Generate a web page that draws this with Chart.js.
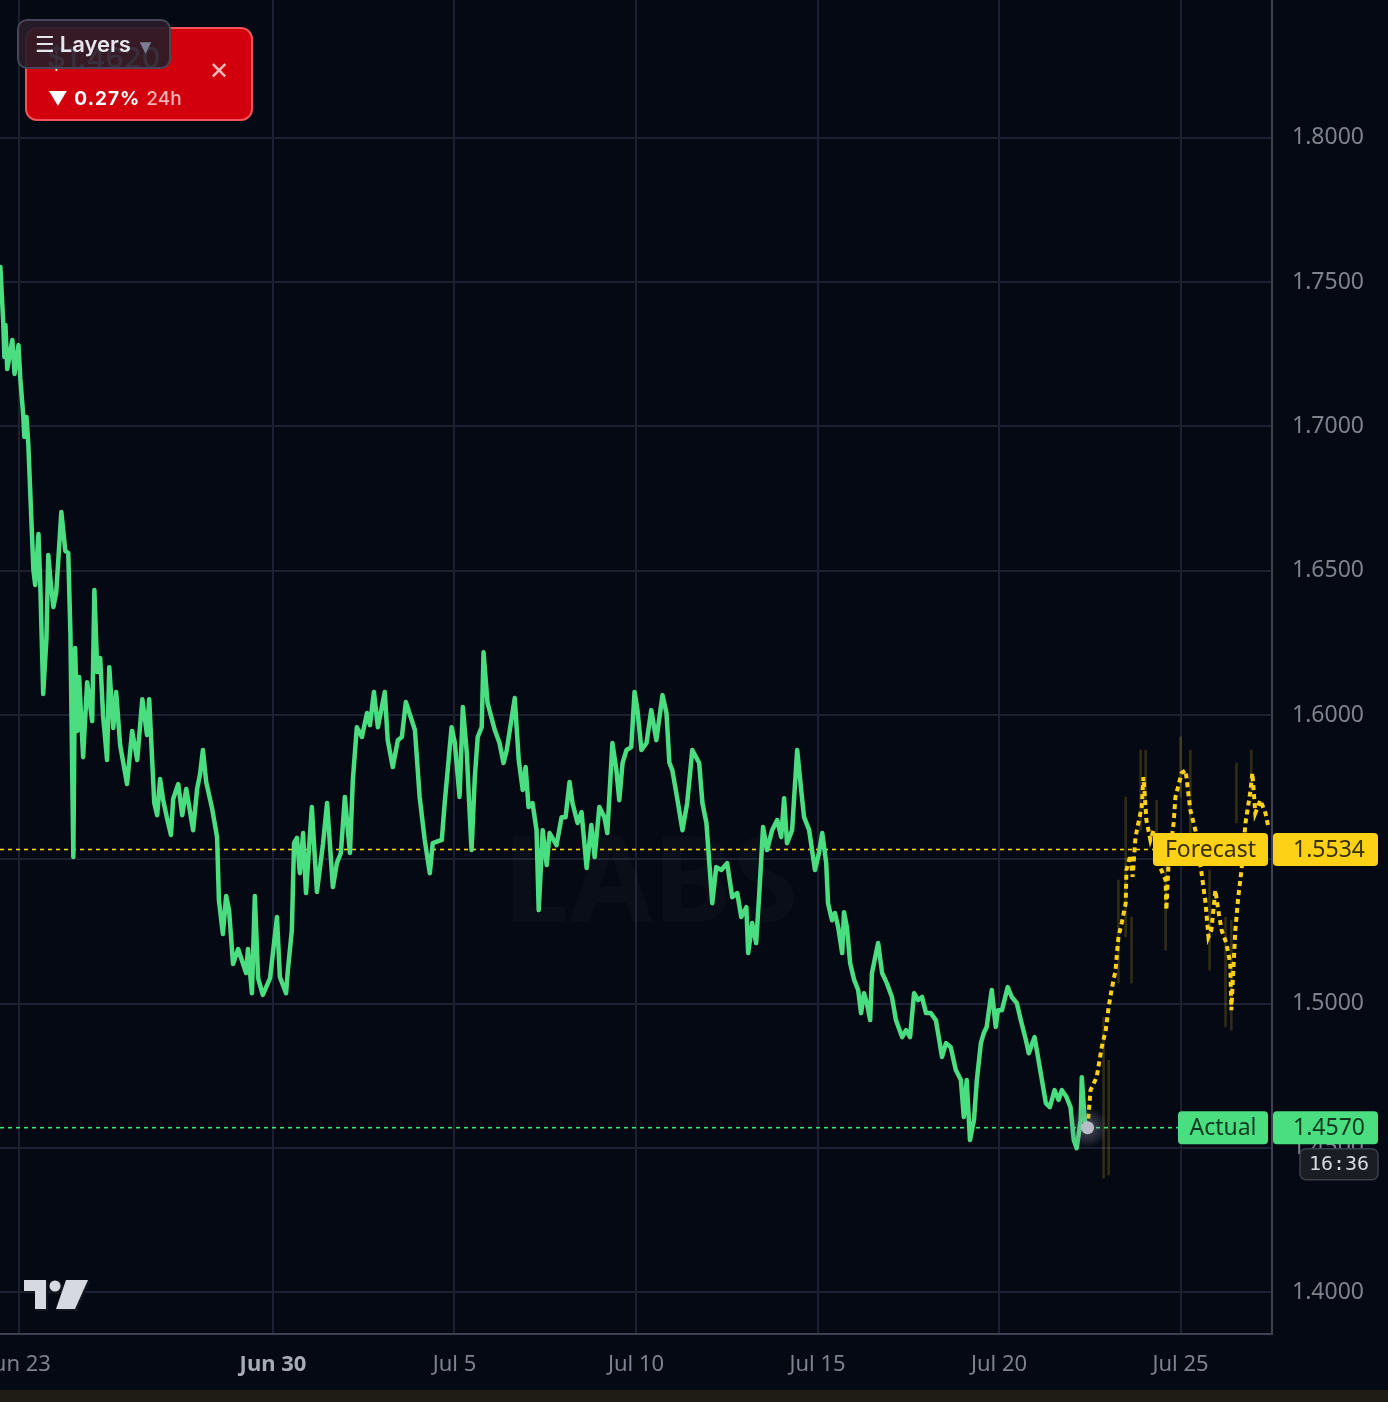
<!DOCTYPE html>
<html lang="en">
<head>
  <meta charset="UTF-8">
  <title>Forecast vs Actual</title>
  <script src="https://cdn.jsdelivr.net/npm/chart.js"></script>
  <style>
    html, body { margin: 0; padding: 0; background: #1e1c14; }
    body { width: 1388px; height: 1402px; position: relative; overflow: hidden; font-family: Inter, "Noto Sans", "DejaVu Sans", sans-serif; }
    #wrap { position: absolute; left: 0; top: 0; width: 1388px; height: 1390px; background: #040914; }
    #ticker { position: absolute; left: 25px; top: 27px; width: 228px; height: 94px; box-sizing: border-box;
      border: 2px solid #f2525a; border-radius: 12px; background: #d1000c; color: #fff; }
    #ticker .price { position: absolute; left: 20px; top: 11px; font-size: 29px; font-weight: 500; }
    #ticker .chg { position: absolute; left: 21px; top: 58px; font-size: 19px; font-weight: 700; letter-spacing: 1px; }
    #ticker .chg .per { font-weight: 500; color: #f6b3b8; letter-spacing: 0; margin-left: 6px; }
    #ticker .close { position: absolute; left: 182px; top: 30px; font-size: 24px; color: #f4bcc0; line-height: 1; }
    #layers { position: absolute; left: 17px; top: 19px; width: 154px; height: 50px; box-sizing: border-box;
      border: 2px solid #464656; border-radius: 10px; background: rgba(40, 29, 42, 0.92);
      color: #e6e6ec; font-size: 22px; font-weight: 600; line-height: 46px; padding-left: 16px; }
    #layers .ico { font-family: "DejaVu Sans", sans-serif; font-weight: 400; margin-right: 5px; }
    #layers .caret { font-family: "DejaVu Sans", sans-serif; color: #7b8090; font-size: 15px; margin-left: 9px; }
    #tvlogo { position: absolute; left: 22px; top: 1276px; }
  </style>
</head>
<body>
  <div id="wrap">
    <canvas id="myChart" width="1388" height="1390"></canvas>
  </div>
  <div id="ticker">
    <div class="price">$1.4620</div>
    <div class="chg">▼ 0.27%<span class="per">24h</span></div>
    <div class="close">✕</div>
  </div>
  <div id="layers"><span class="ico">☰</span>Layers<span class="caret">▼</span></div>
  <svg id="tvlogo" width="70" height="38" viewBox="0 0 70 38">
    <g fill="#14161e">
      <path d="M3 5 H26 V35 H14 V16 H3 Z"/>
      <circle cx="34" cy="11" r="7"/>
      <path d="M44 5 H68 L55 35 H34 Z"/>
    </g>
    <g fill="#d6d8e2">
      <path d="M2 4 H24 V33 H13 V15 H2 Z"/>
      <circle cx="33" cy="10" r="5.5"/>
      <path d="M44 4 H66 L53 33 H34 Z"/>
    </g>
  </svg>

  <script>
    // x values are days counted from Jun 30 (0 = Jun 30, 00:00)
    const xTickDays = [-7, 0, 5, 10, 15, 20, 25];
    const xTickLabels = ['Jun 23', 'Jun 30', 'Jul 5', 'Jul 10', 'Jul 15', 'Jul 20', 'Jul 25'];
    const yTicks = [1.40, 1.45, 1.50, 1.55, 1.60, 1.65, 1.70, 1.75, 1.80];

    const forecastLevel = 1.5534;
    const actualLevel = 1.4570;
    const lastTime = '16:36';

    // actual price (green)
    const greenDays = [
      -7.51,-7.43,-7.40,-7.37,-7.32,-7.18,-7.12,-7.01,-6.96,-6.88,
      -6.85,-6.79,-6.74,-6.60,-6.55,-6.46,-6.41,-6.33,-6.24,-6.19,
      -6.13,-6.05,-5.97,-5.83,-5.72,-5.64,-5.58,-5.50,-5.45,-5.39,
      -5.34,-5.23,-5.12,-4.98,-4.92,-4.84,-4.76,-4.68,-4.57,-4.51,
      -4.40,-4.32,-4.21,-4.02,-3.88,-3.74,-3.60,-3.47,-3.41,-3.27,
      -3.19,-3.11,-3.03,-2.92,-2.81,-2.75,-2.61,-2.50,-2.39,-2.20,
      -2.09,-2.01,-1.93,-1.84,-1.68,-1.54,-1.49,-1.38,-1.29,-1.21,
      -1.10,-0.96,-0.74,-0.69,-0.58,-0.50,-0.41,-0.28,-0.08,0.11,
      0.19,0.36,0.41,0.52,0.58,0.66,0.74,0.83,0.91,1.07,
      1.21,1.38,1.49,1.65,1.76,1.87,1.98,2.12,2.20,2.31,
      2.45,2.59,2.67,2.78,2.89,3.08,3.16,3.30,3.44,3.55,
      3.66,3.82,3.91,4.04,4.18,4.32,4.40,4.65,4.73,4.92,
      5.01,5.14,5.23,5.34,5.39,5.47,5.56,5.64,5.75,5.80,
      5.91,6.11,6.24,6.35,6.44,6.66,6.77,6.88,6.96,7.04,
      7.15,7.26,7.32,7.43,7.54,7.62,7.81,7.95,8.06,8.17,
      8.25,8.39,8.50,8.64,8.77,8.86,8.99,9.13,9.21,9.35,
      9.46,9.54,9.63,9.74,9.87,9.96,10.04,10.15,10.29,10.42,
      10.56,10.73,10.84,10.92,11.00,11.11,11.28,11.41,11.55,11.74,
      11.83,11.94,12.02,12.10,12.21,12.35,12.51,12.65,12.79,12.90,
      13.04,13.09,13.20,13.31,13.39,13.50,13.61,13.75,13.89,14.00,
      14.08,14.16,14.30,14.44,14.55,14.63,14.77,14.93,15.04,15.13,
      15.24,15.29,15.40,15.48,15.57,15.68,15.73,15.81,15.90,16.01,
      16.12,16.20,16.28,16.36,16.45,16.50,16.67,16.78,16.91,17.05,
      17.16,17.33,17.44,17.55,17.66,17.77,17.88,17.99,18.12,18.26,
      18.34,18.43,18.54,18.67,18.81,18.95,19.03,19.11,19.20,19.31,
      19.39,19.50,19.58,19.66,19.80,19.91,19.97,20.08,20.24,20.35,
      20.49,20.60,20.74,20.82,20.98,21.15,21.29,21.40,21.53,21.64,
      21.73,21.86,21.97,22.06,22.14,22.25,22.28,22.36,22.44
    ];
    const greenPrices = [
      1.7553,1.7359,1.7241,1.7352,1.7199,1.7300,1.7182,1.7282,1.7165,1.7040,
      1.6964,1.7033,1.6939,1.6503,1.6451,1.6627,1.6451,1.6073,1.6267,1.6555,
      1.6468,1.6374,1.6426,1.6704,1.6568,1.6562,1.6284,1.5508,1.6232,1.5945,
      1.6132,1.5854,1.6114,1.5979,1.6433,1.6149,1.6198,1.5997,1.5844,1.6166,
      1.5955,1.6080,1.5896,1.5761,1.5945,1.5844,1.6055,1.5931,1.6055,1.5695,
      1.5653,1.5778,1.5709,1.5643,1.5584,1.5709,1.5761,1.5653,1.5744,1.5601,
      1.5744,1.5795,1.5879,1.5768,1.5678,1.5577,1.5359,1.5241,1.5373,1.5324,
      1.5137,1.5189,1.5106,1.5189,1.5036,1.5373,1.5088,1.5030,1.5088,1.5300,
      1.5092,1.5036,1.5116,1.5255,1.5556,1.5574,1.5452,1.5591,1.5383,1.5681,
      1.5387,1.5556,1.5695,1.5404,1.5487,1.5522,1.5716,1.5522,1.5775,1.5958,
      1.5924,1.6007,1.5965,1.6080,1.5958,1.6080,1.5913,1.5820,1.5913,1.5924,
      1.6045,1.5983,1.5948,1.5716,1.5567,1.5452,1.5556,1.5567,1.5695,1.5958,
      1.5903,1.5716,1.6028,1.5868,1.5730,1.5532,1.5785,1.5924,1.5958,1.6218,
      1.6042,1.5948,1.5903,1.5834,1.5879,1.6059,1.5844,1.5740,1.5820,1.5681,
      1.5695,1.5601,1.5324,1.5601,1.5480,1.5591,1.5549,1.5646,1.5646,1.5768,
      1.5695,1.5626,1.5664,1.5470,1.5619,1.5508,1.5681,1.5646,1.5591,1.5903,
      1.5809,1.5705,1.5834,1.5879,1.5889,1.6080,1.6017,1.5879,1.5903,1.6017,
      1.5913,1.6069,1.6007,1.5834,1.5809,1.5730,1.5601,1.5695,1.5879,1.5834,
      1.5695,1.5626,1.5487,1.5348,1.5473,1.5463,1.5487,1.5369,1.5383,1.5300,
      1.5334,1.5175,1.5279,1.5210,1.5369,1.5612,1.5532,1.5601,1.5636,1.5577,
      1.5712,1.5556,1.5601,1.5879,1.5740,1.5646,1.5601,1.5463,1.5522,1.5591,
      1.5487,1.5348,1.5289,1.5314,1.5265,1.5175,1.5317,1.5265,1.5140,1.5082,
      1.5047,1.4967,1.5036,1.5002,1.4943,1.5106,1.5210,1.5106,1.5071,1.5023,
      1.4943,1.4884,1.4908,1.4884,1.5036,1.5012,1.5023,1.4967,1.4967,1.4943,
      1.4884,1.4815,1.4863,1.4849,1.4770,1.4735,1.4607,1.4735,1.4527,1.4596,
      1.4735,1.4863,1.4898,1.4919,1.5047,1.4919,1.4977,1.4977,1.5057,1.5023,
      1.5002,1.4943,1.4874,1.4828,1.4884,1.4759,1.4655,1.4641,1.4700,1.4666,
      1.4700,1.4676,1.4641,1.4527,1.4499,1.4596,1.4745,1.4596,1.4570
    ];

    // forecast (yellow dashed)
    const forecastDays = [
      22.44,22.52,22.69,22.83,22.94,23.02,23.10,23.21,23.29,23.38,
      23.49,23.51,23.62,23.68,23.76,23.84,23.93,23.98,24.06,24.17,
      24.26,24.39,24.59,24.61,24.67,24.81,24.86,25.03,25.14,25.27,
      25.41,25.58,25.69,25.77,25.85,25.96,26.04,26.13,26.26,26.37,
      26.40,26.51,26.59,26.68,26.79,26.93,26.98,27.06,27.20,27.34,27.42
    ];
    const forecastPrices = [
      1.4570,1.4700,1.4745,1.4849,1.4908,1.4988,1.5047,1.5116,1.5231,1.5279,
      1.5348,1.5463,1.5515,1.5439,1.5577,1.5626,1.5681,1.5785,1.5636,1.5567,
      1.5601,1.5487,1.5428,1.5324,1.5487,1.5626,1.5716,1.5799,1.5809,1.5671,
      1.5601,1.5452,1.5348,1.5231,1.5255,1.5393,1.5324,1.5255,1.5210,1.5140,
      1.4977,1.5255,1.5369,1.5463,1.5626,1.5740,1.5799,1.5660,1.5705,1.5660,1.5612
    ];

    // faint forecast spread streaks
    const rangeDays = [22.88,23.02,23.29,23.49,23.65,23.90,24.04,24.34,24.59,25.00,25.27,25.80,26.24,26.40,26.54,26.95];
    const rangeLow  = [1.4395,1.4406,1.5071,1.5231,1.5071,1.5601,1.5705,1.5497,1.5185,1.5716,1.5542,1.5116,1.4919,1.4908,1.5626,1.5740];
    const rangeHigh = [1.4953,1.4804,1.5428,1.5716,1.5300,1.5879,1.5879,1.5705,1.5487,1.5924,1.5879,1.5463,1.5300,1.5289,1.5834,1.5879];

    const GREEN = '#4ade80';
    const YELLOW = '#fcd116';
    const FONT = '"Noto Sans", sans-serif';

    const overlay = {
      id: 'overlay',
      beforeDatasetsDraw(chart) {
        const { ctx, chartArea: a, scales: { x, y } } = chart;
        ctx.save();
        // faint watermark
        ctx.fillStyle = 'rgba(255,255,255,0.022)';
        ctx.font = '700 120px ' + FONT;
        ctx.textAlign = 'center';
        ctx.textBaseline = 'middle';
        ctx.fillText('LABS', x.getPixelForValue(10.4), y.getPixelForValue(1.5400));
        // level lines
        ctx.lineWidth = 1.6;
        ctx.setLineDash([4, 4]);
        let yy = y.getPixelForValue(forecastLevel);
        ctx.strokeStyle = YELLOW;
        ctx.beginPath(); ctx.moveTo(a.left, yy); ctx.lineTo(a.right, yy); ctx.stroke();
        yy = y.getPixelForValue(actualLevel);
        ctx.strokeStyle = GREEN;
        ctx.beginPath(); ctx.moveTo(a.left, yy); ctx.lineTo(a.right, yy); ctx.stroke();
        ctx.restore();
      },
      afterDatasetsDraw(chart) {
        const { ctx, scales: { x, y } } = chart;
        const px = x.getPixelForValue(greenDays[greenDays.length - 1]);
        const py = y.getPixelForValue(actualLevel);
        ctx.save();
        const g = ctx.createRadialGradient(px, py, 2, px, py, 22);
        g.addColorStop(0, 'rgba(200,205,220,0.35)');
        g.addColorStop(0.6, 'rgba(120,125,140,0.22)');
        g.addColorStop(1, 'rgba(60,65,80,0)');
        ctx.fillStyle = g;
        ctx.beginPath(); ctx.arc(px, py, 22, 0, Math.PI * 2); ctx.fill();
        ctx.fillStyle = '#b9bdc9';
        ctx.beginPath(); ctx.arc(px, py, 6.5, 0, Math.PI * 2); ctx.fill();
        ctx.restore();
      },
      afterDraw(chart) {
        const { ctx, chartArea: a, scales: { y } } = chart;
        ctx.save();
        ctx.font = '23px ' + FONT;
        ctx.textBaseline = 'middle';
        const tag = (l, r, yc, fill, text, color, align) => {
          ctx.fillStyle = fill;
          ctx.beginPath(); ctx.roundRect(l, yc - 16.5, r - l, 33, 4); ctx.fill();
          ctx.fillStyle = color;
          ctx.textAlign = align;
          ctx.fillText(text, align === 'center' ? (l + r) / 2 : l + 20, yc + 1);
        };
        const yF = y.getPixelForValue(forecastLevel);
        tag(a.right - 119, a.right - 4, yF, YELLOW, 'Forecast', '#3a3000', 'center');
        tag(a.right + 1, a.right + 106, yF, YELLOW, forecastLevel.toFixed(4), '#3a3000', 'left');
        const yA = y.getPixelForValue(actualLevel);
        tag(a.right - 94, a.right - 4, yA, GREEN, 'Actual', '#0e3a20', 'center');
        tag(a.right + 1, a.right + 106, yA, GREEN, actualLevel.toFixed(4), '#0e3a20', 'left');
        // time box
        ctx.fillStyle = '#1b1d24';
        ctx.strokeStyle = '#3c3f49';
        ctx.lineWidth = 1.5;
        ctx.beginPath(); ctx.roundRect(a.right + 28, yA + 21, 78, 31, 6); ctx.fill(); ctx.stroke();
        ctx.fillStyle = '#d6d9e0';
        ctx.font = '20px "DejaVu Sans Mono", monospace';
        ctx.textAlign = 'center';
        ctx.fillText(lastTime, a.right + 67, yA + 37);
        ctx.restore();
      }
    };

    const ctx = document.getElementById('myChart').getContext('2d');
    const myChart = new Chart(ctx, {
      type: 'line',
      data: {
        datasets: [
          {
            type: 'bar',
            label: 'Spread',
            data: rangeDays.map((d, i) => ({ x: d, y: [rangeLow[i], rangeHigh[i]] })),
            backgroundColor: 'rgba(250,204,21,0.18)',
            borderWidth: 0,
            barThickness: 2,
            grouped: false,
            order: 3
          },
          {
            label: 'Forecast',
            data: forecastDays.map((d, i) => ({ x: d, y: forecastPrices[i] })),
            borderColor: YELLOW,
            borderWidth: 4,
            borderDash: [5, 4],
            pointRadius: 0,
            tension: 0,
            order: 2
          },
          {
            label: 'Actual',
            data: greenDays.map((d, i) => ({ x: d, y: greenPrices[i] })),
            borderColor: GREEN,
            borderWidth: 4.5,
            borderJoinStyle: 'round',
            borderCapStyle: 'round',
            pointRadius: 0,
            tension: 0,
            order: 1
          }
        ]
      },
      options: {
        responsive: false,
        animation: false,
        devicePixelRatio: 1,
        layout: { padding: 0 },
        plugins: {
          legend: { display: false },
          tooltip: { enabled: false }
        },
        scales: {
          x: {
            type: 'linear',
            min: -7.52,
            max: 27.52,
            offset: false,
            afterBuildTicks: s => { s.ticks = xTickDays.map(v => ({ value: v })); },
            afterFit: s => { s.height = 56; s.paddingLeft = 0; s.paddingRight = 0; },
            grid: { color: '#1b2130', lineWidth: 2, drawTicks: false, offset: false },
            border: { display: true, color: '#3d4252', width: 2 },
            ticks: {
              padding: 18,
              autoSkip: false,
              maxRotation: 0,
              callback: v => { const i = xTickDays.indexOf(v); return i >= 0 ? xTickLabels[i] : ''; },
              color: c => (c.tick && c.tick.value === 0) ? '#a7abb5' : '#7d828e',
              font: c => ({ family: FONT, size: 22, weight: (c.tick && c.tick.value === 0) ? '700' : '400' })
            }
          },
          y: {
            type: 'linear',
            position: 'right',
            min: 1.3855,
            max: 1.8478,
            afterBuildTicks: s => { s.ticks = yTicks.map(v => ({ value: v })); },
            afterFit: s => { s.width = 116; s.paddingTop = 0; s.paddingBottom = 0; },
            grid: { color: '#1b2130', lineWidth: 2, drawTicks: false },
            border: { display: true, color: '#3d4252', width: 2 },
            ticks: {
              padding: 20,
              callback: v => Number(v).toFixed(4),
              color: '#7d828e',
              font: { family: FONT, size: 23 }
            }
          }
        }
      },
      plugins: [overlay]
    });
  </script>
</body>
</html>
